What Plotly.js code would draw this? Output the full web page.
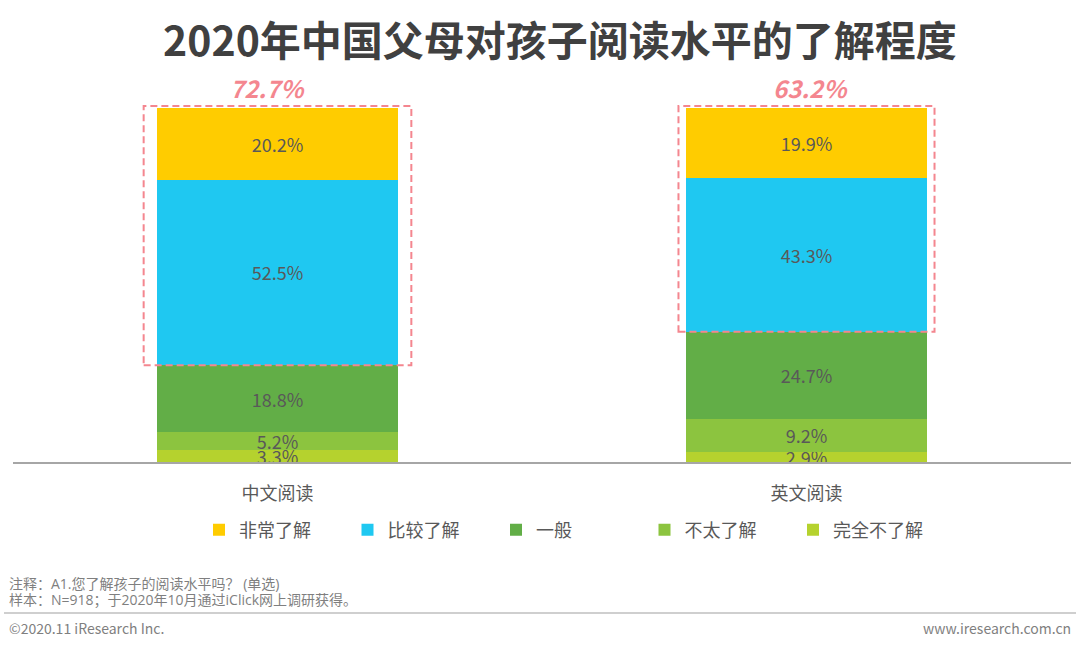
<!DOCTYPE html>
<html>
<head>
<meta charset="utf-8">
<script src="https://cdn.plot.ly/plotly-3.0.1.min.js"></script>
<style>html,body{margin:0;padding:0;background:#fff;}#chart{width:1080px;height:649px;}</style>
</head>
<body>
<div id="chart"></div>
<script>
// ---- data ----
const categories = ["中文阅读", "英文阅读"];
const seriesNames = ["完全不了解", "不太了解", "一般", "比较了解", "非常了解"];
const valNone = [3.3, 2.9];       // 完全不了解
const valLittle = [5.2, 9.2];     // 不太了解
const valAverage = [18.8, 24.7];  // 一般
const valFair = [52.5, 43.3];     // 比较了解
const valVery = [20.2, 19.9];     // 非常了解
const seriesColors = ["#B5D22E", "#8CC43F", "#62AE47", "#1FC8F1", "#FFCC00"];

const titleText = "2020年中国父母对孩子阅读水平的了解程度";
const noteLines = ["注释：A1.您了解孩子的阅读水平吗？ (单选)", "样本：N=918；于2020年10月通过iClick网上调研获得。"];
const copyrightText = "©2020.11 iResearch Inc.";
const siteText = "www.iresearch.com.cn";

// ---- layout geometry ----
const W = 1080, H = 649;
const L = 13, R = 9, T = 108, B = 187;
const PW = W - L - R, PH = H - T - B;
const px = p => (p - L) / PW;
const py = p => (H - B - p) / PH;

const FONT = '"Noto Sans CJK SC", "Noto Sans", sans-serif';
const MIXFONT = '"Open Sans", "Noto Sans CJK SC", sans-serif';
const allVals = [valNone, valLittle, valAverage, valFair, valVery];

const traces = allVals.map((vals, i) => ({
  type: "bar",
  name: seriesNames[i],
  x: categories,
  y: vals,
  marker: { color: seriesColors[i], line: { width: 0 } },
  text: vals.map(v => v.toFixed(1) + "%"),
  textposition: "inside",
  insidetextanchor: "middle",
  constraintext: "none",
  textfont: { family: FONT, size: 18, color: "#595959" },
  hoverinfo: "skip",
  legendrank: 5 - i
}));

const barWidthFrac = 0.456;
const boxPad = [0.025, 0.014];
const labelShift = [-10, 4];
const shapes = [];
const annotations = [];
categories.forEach((c, k) => {
  const bottom = valNone[k] + valLittle[k] + valAverage[k];
  const upperShare = valFair[k] + valVery[k];
  shapes.push({
    type: "rect", xref: "x", yref: "paper",
    x0: k - barWidthFrac / 2 - boxPad[k], x1: k + barWidthFrac / 2 + boxPad[k],
    y0: bottom / 100, y1: 1 + 2 / PH,
    line: { color: "#F4868F", width: 2, dash: "7px,4px" },
    fillcolor: "rgba(0,0,0,0)"
  });
  annotations.push({
    xref: "x", yref: "paper", x: k, y: 1, yanchor: "middle", yshift: 21, xshift: labelShift[k],
    text: "<b><i>" + upperShare.toFixed(1) + "%</i></b>",
    showarrow: false,
    font: { family: FONT, size: 24, color: "#F4868F" }
  });
});

// footer separator line
shapes.push({ type: "line", xref: "paper", yref: "paper", x0: px(4), x1: px(1076), y0: py(613), y1: py(613),
  line: { color: "#BFBFBF", width: 1.5 } });

const footFont = { family: MIXFONT, size: 14, color: "#7F7F7F" };
annotations.push({ xref: "paper", yref: "paper", x: px(7), y: py(583), xanchor: "left", yanchor: "middle",
  text: noteLines[0], showarrow: false, font: footFont });
annotations.push({ xref: "paper", yref: "paper", x: px(7), y: py(599), xanchor: "left", yanchor: "middle",
  text: noteLines[1], showarrow: false, font: footFont });
annotations.push({ xref: "paper", yref: "paper", x: px(7), y: py(628), xanchor: "left", yanchor: "middle",
  text: copyrightText, showarrow: false, font: { family: FONT, size: 14, color: "#7F7F7F" } });
annotations.push({ xref: "paper", yref: "paper", x: px(1073), y: py(628), xanchor: "right", yanchor: "middle",
  text: siteText, showarrow: false, font: { family: FONT, size: 14, color: "#7F7F7F" } });

const layout = {
  width: W, height: H,
  margin: { l: L, r: R, t: T, b: B, pad: 0 },
  paper_bgcolor: "#ffffff", plot_bgcolor: "#ffffff",
  barmode: "stack",
  bargap: 1 - barWidthFrac,
  showlegend: true,
  title: { text: "<b>" + titleText + "</b>", x: 560 / W, xanchor: "center", xref: "container",
    y: 1 - 42 / H, yanchor: "middle", yref: "container",
    font: { family: FONT, size: 41, color: "#404040" } },
  font: { family: FONT, color: "#595959" },
  xaxis: {
    type: "category", range: [-0.5, 1.5],
    showline: true, linecolor: "#A6A6A6", linewidth: 2,
    showgrid: false, zeroline: false, ticks: "",
    tickfont: { family: FONT, size: 18, color: "#595959" },
    ticklabelstandoff: 14, fixedrange: true
  },
  yaxis: { range: [0, 100], visible: false, showgrid: false, zeroline: false, fixedrange: true },
  uniformtext: { mode: "show", minsize: 18 },
  legend: {
    orientation: "h", x: px(199), xanchor: "left", y: py(530), yanchor: "middle",
    traceorder: "normal",
    font: { family: FONT, size: 18, color: "#595959" },
    entrywidth: 103.5, entrywidthmode: "pixels",
    itemclick: false, itemdoubleclick: false
  },
  shapes: shapes,
  annotations: annotations
};

Plotly.newPlot("chart", traces, layout, { displayModeBar: false, staticPlot: true });
</script>
</body>
</html>
